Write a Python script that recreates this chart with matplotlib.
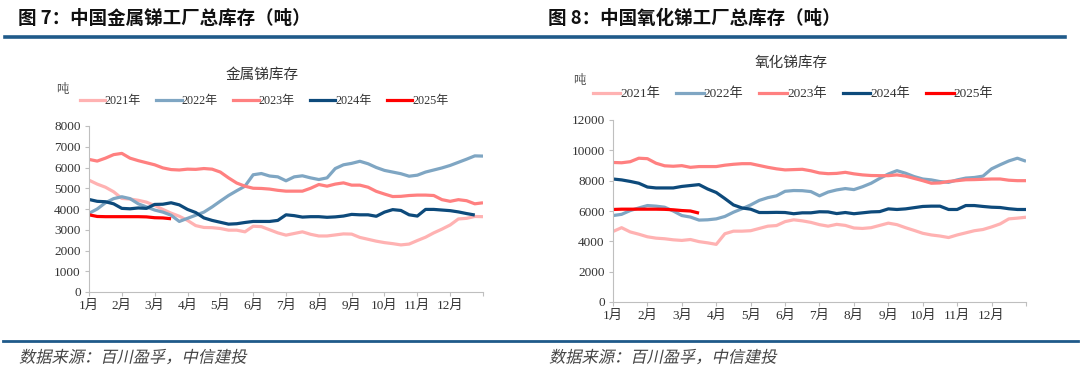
import matplotlib
matplotlib.use("Agg")
import matplotlib.pyplot as plt
import numpy as np
from matplotlib.lines import Line2D
from matplotlib.patheffects import AbstractPathEffect
from matplotlib.transforms import Affine2D

nan = np.nan

# weekly-ish readings, 4 points per month (Jan 1st .. Dec end)
months = ["1月", "2月", "3月", "4月", "5月", "6月", "7月", "8月", "9月", "10月", "11月", "12月"]
years = ["2021年", "2022年", "2023年", "2024年", "2025年"]

metal_2021 = [5390, 5200, 5050, 4830, 4510, 4480, 4420, 4330, 4170, 3980, 3800, 3650,
              3450, 3200, 3110, 3100, 3060, 2980, 2980, 2900, 3170, 3150, 3000, 2850,
              2740, 2820, 2900, 2780, 2700, 2700, 2750, 2800, 2790, 2630, 2540, 2450,
              2380, 2330, 2270, 2310, 2480, 2640, 2850, 3030, 3230, 3520, 3550, 3640, 3630]
metal_2022 = [3790, 4000, 4300, 4500, 4590, 4500, 4250, 4100, 3950, 3850, 3700, 3400,
              3550, 3700, 3850, 4100, 4380, 4650, 4880, 5100, 5650, 5710, 5590, 5550,
              5360, 5550, 5600, 5500, 5420, 5500, 5950, 6130, 6200, 6300, 6180, 6000,
              5860, 5780, 5700, 5580, 5630, 5780, 5880, 5980, 6100, 6250, 6400, 6560, 6550]
metal_2023 = [6390, 6310, 6450, 6620, 6680, 6450, 6330, 6230, 6130, 5980, 5900, 5880,
              5920, 5910, 5950, 5920, 5780, 5500, 5250, 5100, 5000, 4990, 4960, 4900,
              4860, 4860, 4860, 5000, 5180, 5100, 5200, 5260, 5150, 5150, 5050, 4850,
              4720, 4600, 4610, 4650, 4670, 4670, 4650, 4450, 4370, 4450, 4400, 4250, 4300]
metal_2024 = [4460, 4370, 4350, 4250, 4030, 4010, 4050, 4030, 4220, 4230, 4300, 4200,
              3980, 3830, 3570, 3450, 3360, 3270, 3290, 3350, 3400, 3400, 3400, 3450,
              3720, 3680, 3610, 3630, 3630, 3600, 3620, 3660, 3740, 3720, 3720, 3650,
              3850, 3970, 3930, 3720, 3660, 3980, 3980, 3950, 3920, 3860, 3780, 3710, nan]
metal_2025 = [3720, 3640, 3630, 3630, 3630, 3630, 3630, 3620, 3580, 3570, 3530]

oxide_2021 = [4650, 4900, 4620, 4470, 4300, 4210, 4170, 4100, 4060, 4120, 3980, 3900,
              3800, 4500, 4670, 4670, 4700, 4850, 5000, 5040, 5300, 5420, 5350, 5250,
              5100, 5000, 5120, 5050, 4880, 4850, 4900, 5050, 5200, 5100, 4900, 4720,
              4530, 4420, 4350, 4250, 4420, 4560, 4700, 4780, 4950, 5150, 5480, 5530, 5590]
oxide_2022 = [5700, 5780, 6030, 6200, 6360, 6320, 6250, 6000, 5700, 5600, 5400, 5420,
              5480, 5640, 5920, 6150, 6400, 6700, 6880, 7000, 7300, 7350, 7340, 7280,
              7000, 7250, 7390, 7480, 7410, 7600, 7830, 8150, 8440, 8660, 8490, 8270,
              8110, 8050, 7940, 7890, 8050, 8170, 8210, 8300, 8780, 9050, 9300, 9480, 9280]
oxide_2023 = [9200, 9180, 9250, 9480, 9450, 9150, 8980, 8950, 8990, 8880, 8930, 8930,
              8930, 9020, 9080, 9120, 9120, 9000, 8880, 8780, 8710, 8730, 8750, 8650,
              8510, 8460, 8480, 8550, 8450, 8380, 8340, 8330, 8330, 8380, 8300, 8150,
              8000, 7830, 7850, 7950, 8000, 8060, 8070, 8090, 8110, 8110, 8030, 8000, 8000]
oxide_2024 = [8110, 8050, 7950, 7830, 7580, 7520, 7520, 7520, 7620, 7680, 7740, 7450,
              7220, 6820, 6400, 6200, 6120, 5900, 5900, 5910, 5900, 5820, 5880, 5880,
              5950, 5940, 5830, 5900, 5820, 5880, 5940, 5960, 6140, 6100, 6140, 6220,
              6300, 6320, 6320, 6100, 6100, 6360, 6360, 6300, 6250, 6230, 6150, 6100, 6100]
oxide_2025 = [6100, 6120, 6120, 6120, 6120, 6120, 6110, 6080, 6030, 6000, 5860]

colors = ["#FFB2B2", "#7FA6C3", "#FF8080", "#0D4A7B", "#FF0000"]
NAVY = "#1F5A8A"
CJK = "Noto Sans CJK SC"
SERIF = ["Liberation Serif", "Noto Sans CJK SC"]

fig = plt.figure(figsize=(10.8, 3.79), dpi=100)
W, H = 1080, 379


def fx(px):
    return px / W


def fy(py):
    return 1 - py / H


class Oblique(AbstractPathEffect):
    """fake italic for CJK fonts without an italic face: shear glyphs around a baseline"""

    def __init__(self, y0, shear=0.22):
        super().__init__()
        self.y0 = y0
        self.shear = shear

    def draw_path(self, renderer, gc, tpath, affine, rgbFace=None):
        sk = Affine2D([[1, self.shear, -self.shear * self.y0], [0, 1, 0], [0, 0, 1]])
        renderer.draw_path(gc, tpath, affine + sk, rgbFace)


def draw_panel(rect, series, ymax, ystep, title, title_xy, unit_xy, legend_xy, leg_size, leg_gap):
    ax = fig.add_axes(rect)
    for vals, c in zip(series, colors):
        x = np.arange(len(vals)) / 4.0
        ax.plot(x, vals, color=c, lw=2.3, solid_capstyle="butt")
    ax.set_xlim(0, 12)
    ax.set_ylim(0, ymax)
    ax.set_yticks(np.arange(0, ymax + 1, ystep))
    ax.set_xticks(np.arange(0, 13))
    ax.set_xticklabels(months + [""], fontfamily=SERIF, fontsize=9.5)
    for lab in ax.get_yticklabels():
        lab.set_fontfamily(SERIF)
        lab.set_fontsize(9.5)
    for s in ["top", "right"]:
        ax.spines[s].set_visible(False)
    for s in ["left", "bottom"]:
        ax.spines[s].set_color("#BFBFBF")
        ax.spines[s].set_linewidth(0.8)
    ax.tick_params(axis="both", color="#BFBFBF", length=3, width=0.8, labelcolor="#333333", pad=3)
    ax.patch.set_alpha(0)

    fig.text(fx(title_xy[0]), fy(title_xy[1]), title, ha="center", va="center",
             fontsize=10.5, family=SERIF, color="#333333")
    fig.text(fx(unit_xy[0]), fy(unit_xy[1]), "吨", ha="center", va="center",
             fontsize=9, family=SERIF, color="#555555")
    handles = [Line2D([], [], color=c, lw=2.3) for c in colors]
    fig.legend(handles, years, loc="center", bbox_to_anchor=(fx(legend_xy[0]), fy(legend_xy[1])),
               ncol=5, frameon=False, handlelength=2.1, handletextpad=0.0, columnspacing=leg_gap,
               prop={"family": SERIF, "size": leg_size}, labelcolor="#333333")
    return ax


# left: metal antimony
draw_panel([fx(89), fy(292), fx(483 - 89), (292 - 126) / H],
           [metal_2021, metal_2022, metal_2023, metal_2024, metal_2025],
           8000, 1000, "金属锑库存", (262, 75), (62, 90), (264, 101), 8.7, 1.25)

# right: antimony oxide
draw_panel([fx(613), fy(302), fx(1026 - 613), (302 - 120) / H],
           [oxide_2021, oxide_2022, oxide_2023, oxide_2024, oxide_2025],
           12000, 2000, "氧化锑库存", (791, 63), (579, 81), (793, 94), 9.5, 1.2)

# headers and rules
fig.text(fx(18), fy(18), "图 7：中国金属锑工厂总库存（吨）", ha="left", va="center",
         fontsize=13.3, fontweight="bold", family=CJK, color="#111111")
fig.text(fx(548), fy(18), "图 8：中国氧化锑工厂总库存（吨）", ha="left", va="center",
         fontsize=13.3, fontweight="bold", family=CJK, color="#111111")
fig.add_artist(Line2D([fx(5), fx(1065)], [fy(36.5), fy(36.5)], color=NAVY, lw=2.6))
fig.add_artist(Line2D([fx(3), fx(1078)], [fy(341), fy(341)], color=NAVY, lw=2.0))

src = "数据来源：百川盈孚，中信建投"
base_px = H - 358  # display y of the source line
for x0 in (20, 550):
    fig.text(fx(x0), fy(358), src, ha="left", va="center", fontsize=11.7, family=CJK,
             color="#444444", path_effects=[Oblique(base_px)])

fig.savefig("out.png", dpi=100)
